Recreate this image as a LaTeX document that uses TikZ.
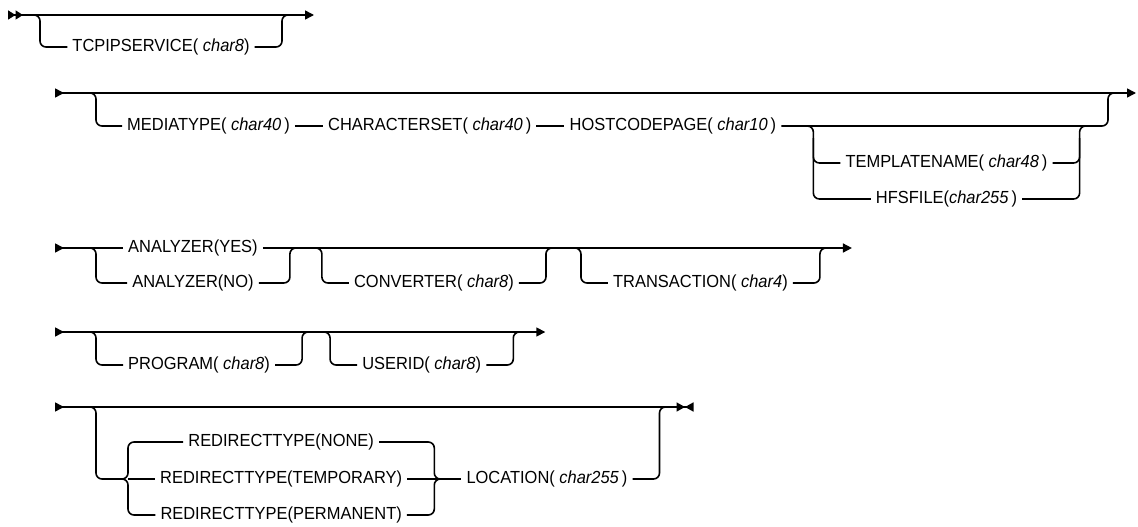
\documentclass[tikz,border=0pt]{standalone}
\usepackage{fontspec}
\setmainfont[FakeStretch=0.94]{Liberation Sans}
\usetikzlibrary{arrows.meta,positioning,calc}
\newcommand{\vname}[1]{\textit{#1}}

\begin{document}
\begin{tikzpicture}[
  x=1pt, y=-1pt,
  Rin/.tip={Triangle[length=9pt,width=9pt,reversed]},
  Rin2/.tip={Triangle[length=7.5pt,width=9pt,reversed]Triangle[length=7.5pt,width=9pt,reversed]},
  Rout/.tip={Triangle[length=9pt,width=9pt]},
  Rend/.tip={Triangle[length=8.5pt,width=9pt]Triangle[length=8.5pt,width=9pt,reversed]},
  rail/.style={line width=1.6pt},
  brk/.style={rail,rounded corners=6pt},
  lbl/.style={inner xsep=5pt,inner ysep=0pt,font=\fontsize{17.5}{20}\selectfont}
]
  \useasboundingbox[fill=white] (0,0) rectangle (1138,527);

  % row 1
  \coordinate (r1s) at (8,15);
  \coordinate (r1e) at (314,15);
  \coordinate (r1a) at (40,15);
  \coordinate (r1b) at (282,15);
  \node[lbl] (tcpip) at ($(r1a)!0.5!(r1b)+(0,32)$) {TCPIPSERVICE( \vname{char8})};

  \draw[rail,{Rin2}-{Rout}] (r1s) -- (r1e);
  \draw[brk] ($(r1a)+(-8,0)$) -- (r1a) |- (tcpip.west);
  \draw[brk] (tcpip.east) -| (r1b) -- ++(8,0);

  % row 2
  \coordinate (r2s) at (55,93);
  \coordinate (r2e) at (1136,93);
  \coordinate (r2a) at (96,93);
  \coordinate (r2b) at (1108,93);
  \node[lbl,anchor=west] (media) at (122,126) {MEDIATYPE( \vname{char40}\,)};
  \node[lbl,right=28pt of media] (charset) {CHARACTERSET( \vname{char40}\,)};
  \node[lbl,right=28pt of charset] (hostcp) {HOSTCODEPAGE( \vname{char10}\,)};
  \coordinate (g2l) at ($(hostcp.east)+(32,0)$);
  \node[lbl,anchor=west] (templ) at ($(g2l)+(27,37)$) {TEMPLATENAME( \vname{char48}\,)};
  \coordinate (g2r) at ($(templ.east |- g2l)+(27,0)$);
  \node[lbl] (hfs) at ($(templ.center)+(0,36)$) {HFSFILE(\vname{char255}\,)};

  \draw[rail,{Rin}-{Rout}] (r2s) -- (r2e);
  \draw[brk] ($(r2a)+(-8,0)$) -- (r2a) |- (media.west);
  \draw[rail] (media) -- (charset);
  \draw[rail] (charset) -- (hostcp);
  \draw[brk] (hostcp.east) -| (r2b) -- ++(8,0);
  \draw[brk] ($(g2l)+(-8,0)$) -- (g2l) |- (hfs.west);
  \draw[brk] ($(g2l)+(0,12)$) |- (templ.west);
  \draw[brk] (hfs.east) -| (g2r) -- ++(8,0);
  \draw[brk] (templ.east) -| ($(g2r)+(0,12)$);

  % row 3
  \coordinate (r3s) at (55,248);
  \coordinate (r3a) at (96,248);
  \node[lbl,anchor=west] (anyes) at ($(r3a)+(27,0)$) {ANALYZER(YES)};
  \node[lbl] (anno) at ($(anyes.center)+(0,35)$) {ANALYZER(NO)};
  \coordinate (r3b) at ($(anyes.east)+(27,0)$);
  \coordinate (r3c) at ($(r3b)+(32,0)$);
  \node[lbl,anchor=west] (conv) at ($(r3c)+(27,35)$) {CONVERTER( \vname{char8})};
  \coordinate (r3d) at ($(conv.east |- r3c)+(27,0)$);
  \coordinate (r3f) at ($(r3d)+(35,0)$);
  \node[lbl,anchor=west] (trans) at ($(r3f)+(27,35)$) {TRANSACTION( \vname{char4})};
  \coordinate (r3g) at ($(trans.east |- r3f)+(27,0)$);
  \coordinate (r3e) at ($(r3g)+(32,0)$);

  \draw[rail,{Rin}-] (r3s) -- (anyes);
  \draw[rail,-{Rout}] (anyes) -- (r3e);
  \draw[brk] ($(r3a)+(-8,0)$) -- (r3a) |- (anno.west);
  \draw[brk] (anno.east) -| (r3b) -- ++(8,0);
  \draw[brk] ($(r3c)+(-8,0)$) -- (r3c) |- (conv.west);
  \draw[brk] (conv.east) -| (r3d) -- ++(8,0);
  \draw[brk] ($(r3f)+(-8,0)$) -- (r3f) |- (trans.west);
  \draw[brk] (trans.east) -| (r3g) -- ++(8,0);

  % row 4
  \coordinate (r4s) at (55,332);
  \coordinate (r4a) at (96,332);
  \node[lbl,anchor=west] (prog) at ($(r4a)+(27,33)$) {PROGRAM( \vname{char8})};
  \coordinate (r4b) at ($(prog.east |- r4a)+(27,0)$);
  \coordinate (r4c) at ($(r4b)+(28,0)$);
  \node[lbl,anchor=west] (userid) at ($(r4c)+(27,33)$) {USERID( \vname{char8})};
  \coordinate (r4d) at ($(userid.east |- r4c)+(27,0)$);
  \coordinate (r4e) at ($(r4d)+(32,0)$);

  \draw[rail,{Rin}-{Rout}] (r4s) -- (r4e);
  \draw[brk] ($(r4a)+(-8,0)$) -- (r4a) |- (prog.west);
  \draw[brk] (prog.east) -| (r4b) -- ++(8,0);
  \draw[brk] ($(r4c)+(-8,0)$) -- (r4c) |- (userid.west);
  \draw[brk] (userid.east) -| (r4d) -- ++(8,0);

  % row 5
  \coordinate (r5s) at (55,407);
  \coordinate (r5a) at (96,407);
  \coordinate (r5j) at (128,479);
  \node[lbl,anchor=west] (rdtemp) at ($(r5j)+(27,0)$) {REDIRECTTYPE(TEMPORARY)};
  \node[lbl] (rdnone) at ($(rdtemp.center)+(0,-37)$) {REDIRECTTYPE(NONE)};
  \node[lbl] (rdperm) at ($(rdtemp.center)+(0,36)$) {REDIRECTTYPE(PERMANENT)};
  \coordinate (r5k) at ($(rdtemp.east)+(27,0)$);
  \node[lbl,anchor=west] (loc) at ($(r5k)+(27,0)$) {LOCATION( \vname{char255}\,)};
  \coordinate (r5b) at ($(loc.east |- r5a)+(27,0)$);
  \coordinate (r5e) at ($(r5b)+(34,0)$);

  \draw[rail,{Rin}-{Rend}] (r5s) -- (r5e);
  \draw[brk] ($(r5a)+(-8,0)$) -- (r5a) |- ($(r5j)+(-6,0)$);
  \draw[brk] ($(r5j)+(-6,0)$) -| (r5j |- rdnone.west) -- (rdnone.west);
  \draw[brk] ($(r5j)+(-6,0)$) -| (r5j |- rdperm.west) -- (rdperm.west);
  \draw[rail] (r5j) -- (rdtemp);
  \draw[brk] (rdnone.east) -| (r5k) -- ++(6,0);
  \draw[brk] (rdperm.east) -| (r5k) -- ++(6,0);
  \draw[rail] (rdtemp) -- (r5k) -- (loc);
  \draw[brk] (loc.east) -| (r5b) -- ++(8,0);
\end{tikzpicture}
\end{document}
